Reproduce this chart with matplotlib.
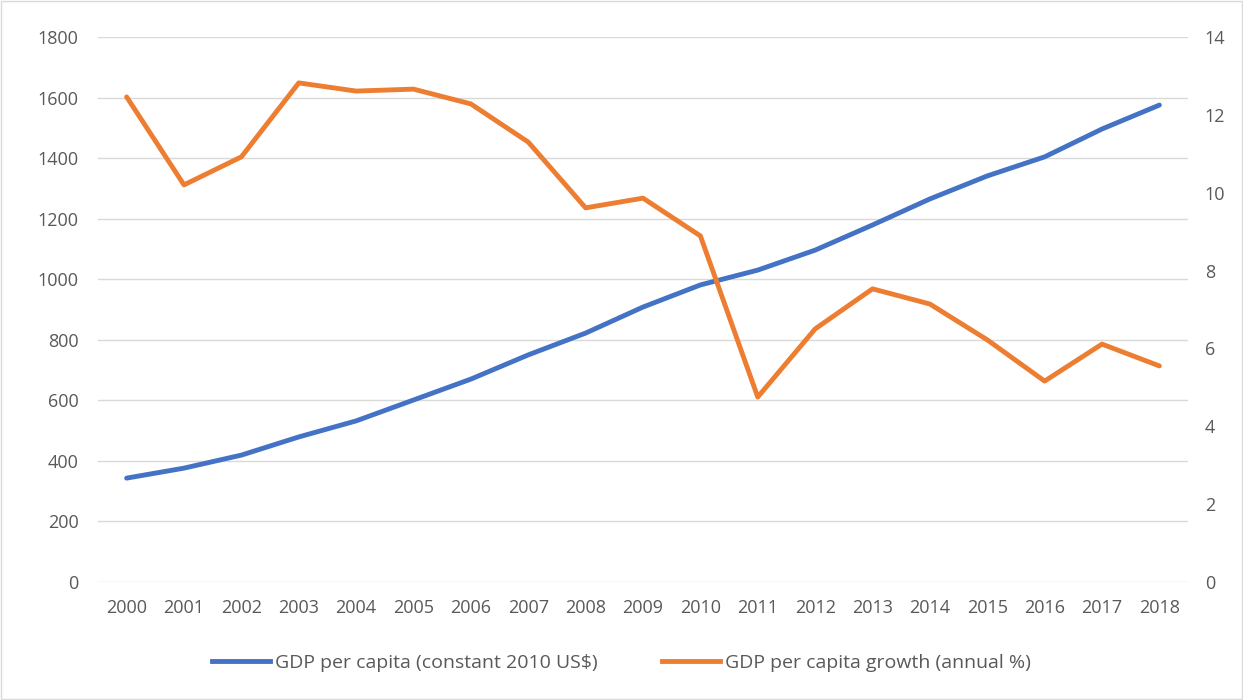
import numpy as np
import matplotlib.pyplot as plt

plt.rcParams['font.family'] = ['Open Sans', 'DejaVu Sans']

years = [str(y) for y in range(2000, 2019)]
gdp_pc = [343, 376, 419, 479, 532, 601, 670, 750, 822, 908,
          981, 1030, 1096, 1179, 1265, 1341, 1404, 1496, 1575]
gdp_growth = [12.46, 10.20, 10.92, 12.82, 12.61, 12.66, 12.28, 11.30, 9.61, 9.86,
              8.89, 4.75, 6.50, 7.53, 7.14, 6.22, 5.16, 6.11, 5.55]

blue = '#4472C4'
orange = '#ED7D31'
txt = '#595959'

fig = plt.figure(figsize=(12.43, 7.0), dpi=100)
ax = fig.add_axes([0.0788, 0.1686, 0.877, 0.7786])
ax2 = ax.twinx()

x = np.arange(len(years))
ax.plot(x, gdp_pc, color=blue, lw=3.5, solid_capstyle='round', zorder=3)
ax2.plot(x, gdp_growth, color=orange, lw=3.5, solid_capstyle='round', zorder=3)

ax.set_xlim(-0.5, len(years) - 0.5)
ax.set_ylim(0, 1800)
ax.set_yticks(np.arange(0, 1801, 200))
ax2.set_ylim(0, 14)
ax2.set_yticks(np.arange(0, 15, 2))
ax.set_xticks(x)
ax.set_xticklabels(years)

ax.grid(axis='y', color='#d9d9d9', lw=1)
ax.set_axisbelow(True)
for a in (ax, ax2):
    for s in a.spines.values():
        s.set_visible(False)
    a.tick_params(length=0, labelsize=13, colors=txt)
ax.tick_params(axis='y', pad=14)
ax2.tick_params(axis='y', pad=12)
ax.tick_params(axis='x', pad=12)

ax.plot([], [], color=blue, lw=3.5, label='GDP per capita (constant 2010 US$)')
ax.plot([], [], color=orange, lw=3.5, label='GDP per capita growth (annual %)')
leg = fig.legend(loc='center', bbox_to_anchor=(0.5, 0.053), ncol=2, frameon=False,
                 fontsize=14, handlelength=3.0, columnspacing=3.3, handletextpad=0.25)
for t in leg.get_texts():
    t.set_color(txt)

fig.patches.append(plt.Rectangle((0.001, 0.001), 0.998, 0.998, transform=fig.transFigure,
                                 fill=False, edgecolor='#d9d9d9', lw=1))

fig.savefig('out.png', dpi=100)
